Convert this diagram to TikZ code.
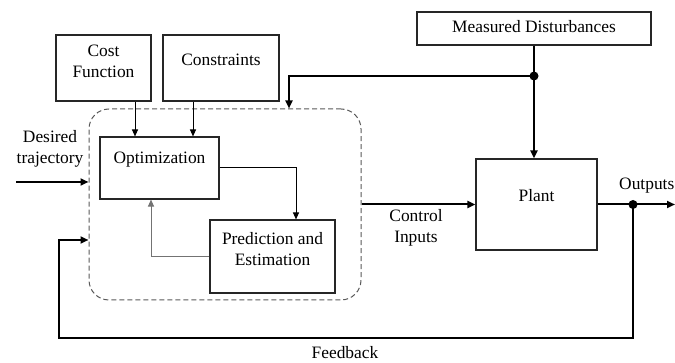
\documentclass[tikz,border=0pt]{standalone}
\usepackage{fontspec}
\setmainfont{Liberation Serif}
\usetikzlibrary{arrows.meta,calc}
\begin{document}
\begin{tikzpicture}[x=1pt,y=-1pt,
  box/.style={draw=black!85,line width=1.1pt,inner sep=0pt},
  txt/.style={font=\fontsize{17.4}{21}\selectfont,align=center,inner sep=0pt},
  thinarr/.style={line width=1pt,-{Triangle[length=7pt,width=6pt]}},
  thickline/.style={line width=2pt},
  thickarr/.style={line width=2pt,-{Triangle[length=8pt,width=7pt]}},
  dot/.style={circle,fill=black,inner sep=0pt,minimum size=9pt}]
\useasboundingbox (0,0) rectangle (675,363);
\clip (0,0) rectangle (675,363);
% boxes
\node[box,minimum width=95,minimum height=66] (cost) at (103.5,68) {};
\node[txt] (costt) at (103.5,61) {Cost\\Function};
\node[box,minimum width=116,minimum height=66] (cons) at (221,68) {};
\node[txt] (const) at (221,60) {Constraints};
\node[box,minimum width=234,minimum height=33] (md) at (534,28.5) {};
\node[txt] (mdt) at (534,27) {Measured Disturbances};
\node[draw=black!65,dash pattern=on 5pt off 3pt,line width=1pt,rounded corners=20pt,minimum width=272,minimum height=191,inner sep=0pt] (ctrl) at (225,204.5) {};
\node[box,minimum width=119,minimum height=62] (opt) at (159.5,168) {};
\node[txt] (optt) at (159.5,160) {Optimization};
\node[box,minimum width=125,minimum height=73] (pred) at (272.5,256.5) {};
\node[txt] (predt) at (272.5,249) {Prediction and\\Estimation};
\node[box,minimum width=121,minimum height=91] (plant) at (536.5,204.5) {};
\node[txt] (plantt) at (536.5,196) {Plant};
% labels
\node[txt] (desired) at (50,149) {Desired\\trajectory};
\node[txt] (ci) at (416,228) {Control\\Inputs};
\node[txt,anchor=east] (outl) at (674.5,186) {Outputs};
\node[txt] (fbl) at (345,353) {Feedback};
% coordinates
\coordinate (j1) at (534,76);
\coordinate (j2) at (633,204.5);
\coordinate (outend) at (675,204.5);
\coordinate (din) at (16,182);
\coordinate (fbc) at (59,338);
% connectors
\draw[thinarr] ([xshift=31.5pt]cost.south) -- ([xshift=31.5pt]cost.south |- opt.north);
\draw[thinarr] ([xshift=-28pt]cons.south) -- ([xshift=-28pt]cons.south |- opt.north);
\draw[thinarr] (opt.east) -| ([xshift=23.5pt]pred.north);
\draw[thinarr,draw=black!55] (pred.west) -| ([xshift=-8.5pt]opt.south);
\draw[thickline] (md.south) -- (j1);
\draw[thickarr] (j1) -- (j1 |- plant.north);
\draw[thickarr] (j1) -| ([xshift=64pt]ctrl.north);
\draw[thickarr] (ctrl.east) -- (plant.west);
\draw[thickarr] (plant.east) -- (outend);
\draw[thickarr] (din) -- (din -| ctrl.west);
\draw[thickarr] (j2) |- (fbc) |- ([yshift=-35.5pt]ctrl.west);
\node[dot] (d1) at (j1) {};
\node[dot] (d2) at (j2) {};
\end{tikzpicture}
\end{document}
